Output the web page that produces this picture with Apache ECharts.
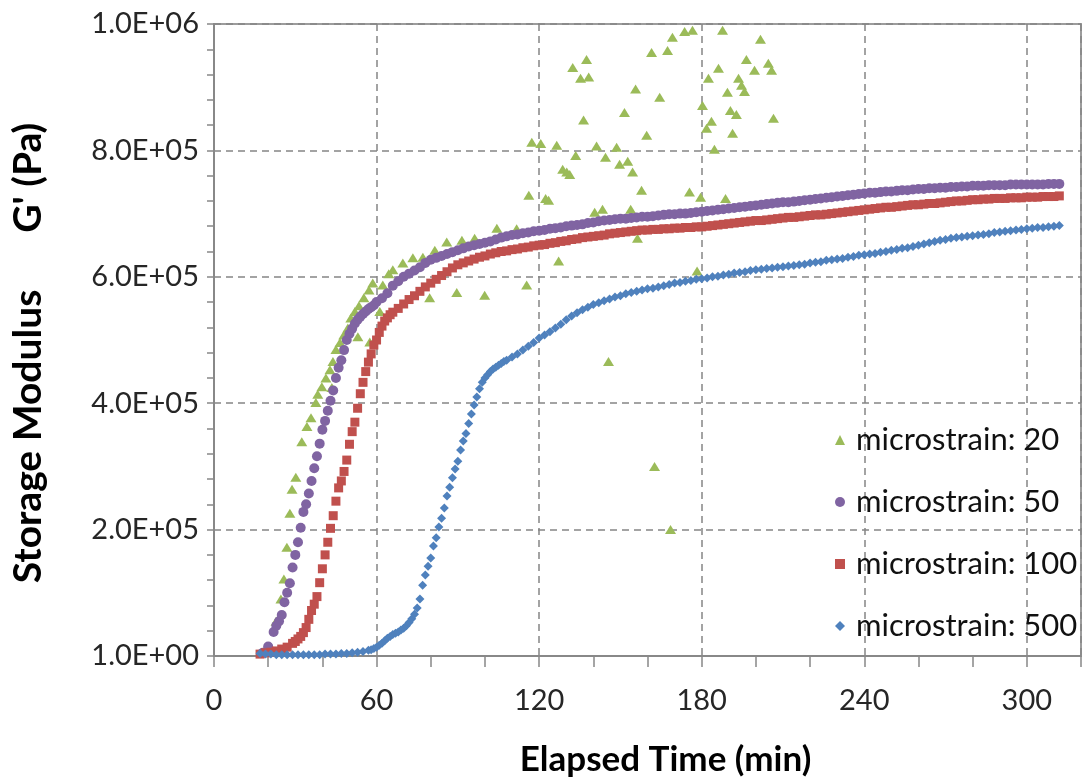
<!DOCTYPE html>
<html>
<head>
<meta charset="utf-8">
<title>Storage Modulus vs Elapsed Time</title>
<script src="https://cdn.jsdelivr.net/npm/echarts@6/dist/echarts.min.js"></script>
<style>
  html, body { margin: 0; padding: 0; background: #fff; }
  #chart { width: 1083px; height: 780px; }
</style>
</head>
<body>
<div id="chart"></div>
<script>
// Storage modulus G' (kPa) against elapsed time (min), one array of [time, G'] per strain level.
const strain20 = [
  [19.5,15],[22.9,55],[24.7,90],[25.8,122],[26.9,172],[28.0,226],[28.8,264],[30.2,283],[32.4,339],[34.3,363],
  [35.8,377],[37.6,401],[38.3,414],[39.8,426],[41.3,440],[42.8,453],[43.5,425],[43.9,466],[45.0,485],[46.5,496],
  [47.9,508],[49.4,519],[50.5,535],[52.0,545],[53.1,505],[53.5,554],[55.3,567],[57.2,579],[57.5,497],[58.6,590],
  [61.2,545],[62.3,587],[64.5,605],[66.0,611],[69.7,622],[73.4,630],[77.1,631],[79.6,567],[81.5,642],[85.9,655],
  [89.6,575],[91.5,658],[96.2,661],[99.9,571],[104.4,677],[111.7,676],[115.4,587],[116.2,729],[117.3,813],[120.6,811],
  [122.4,724],[123.5,721],[126.5,808],[127.2,625],[128.7,770],[130.2,766],[131.3,762],[132.4,931],[133.5,792],[135.3,914],
  [136.4,848],[137.5,944],[138.3,916],[140.5,702],[141.2,807],[143.4,707],[144.5,789],[145.6,466],[148.6,805],[149.7,778],
  [151.5,860],[152.7,783],[153.8,707],[154.5,766],[155.6,897],[156.3,661],[157.8,737],[159.7,824],[161.5,955],[162.6,300],
  [164.5,884],[167.4,958],[168.5,200],[169.2,979],[173.7,988],[175.5,734],[176.6,990],[178.3,609],[179.6,726],[180.3,871],
  [181.8,835],[182.5,914],[183.6,846],[184.7,802],[186.2,930],[187.7,990],[188.8,724],[189.5,892],[190.6,863],[191.4,827],
  [192.8,857],[193.6,914],[194.7,903],[195.8,893],[196.5,944],[199.5,927],[201.7,976],[204.6,938],[205.8,927],[206.5,851]
];

const strain50 = [
  [18,5],[20,15],[22,38],[23,48],[24,55],[25,65],[26,85],[27,100],[28,115],[29,140],[30,160],[31,180],[32,203],[33,228],
  [34,240],[35,257],[36,277],[37,297],[38,316],[39,336],[40,358],[41,372],[42,388],[43,404],[44,420],[45,440],[46,456],
  [47,468],[48,484],[49,500],[50,510],[51,518],[52,526],[53,532],[54,537],[55,541],[56,545],[57,549],[58,552],[59,555],
  [60,560],[62,566],[64,574],[66,586],[68,593],[70,600],[72,605],[74,610],[76,615],[78,622],[80,627],[82,630],[84,633],
  [86,636],[88,639],[90,642],[92,645],[94,648],[96,650],[98,652],[100,654],[102,656],[104,659],[106,662],[108,664],
  [110,666],[112,667],[114,669],[116,670],[118,672],[120,673],[122,674],[124,676],[126,677],[128,678],[130,680],[132,681],
  [134,682],[136,683],[138,685],[140,686],[142,688],[144,689],[146,690],[148,691],[150,692],[152,692],[154,693],[156,694],
  [158,695],[160,695],[162,696],[164,697],[166,698],[168,699],[170,699],[172,700],[174,700],[176,701],[178,702],[180,703],
  [182,704],[184,705],[186,706],[188,707],[190,708],[192,709],[194,710],[196,711],[198,712],[200,713],[202,714],[204,715],
  [206,716],[208,717],[210,718],[212,718],[214,719],[216,720],[218,721],[220,722],[222,723],[224,724],[226,725],[228,726],
  [230,727],[232,728],[234,729],[236,730],[238,731],[240,732],[242,733],[244,733],[246,734],[248,735],[250,735],[252,736],
  [254,737],[256,737],[258,738],[260,739],[262,739],[264,740],[266,740],[268,741],[270,741],[272,742],[274,742],[276,743],
  [278,743],[280,744],[282,744],[284,744],[286,745],[288,745],[290,745],[292,745],[294,746],[296,746],[298,746],[300,746],
  [302,746],[304,746],[306,746],[308,747],[310,747],[312,747]
];

const strain100 = [
  [17,3],[19,5],[21,6],[23,8],[25,11],[27,14],[29,20],[30,23],[31,27],[32,31],[33,37],[34,45],[35,58],[36,72],[37,82],
  [38,94],[39,116],[40,138],[41,160],[42,180],[43,202],[44,222],[45,245],[46,266],[47,277],[48,292],[49,310],[50,335],
  [51,355],[52,370],[53,392],[54,415],[55,433],[56,450],[57,465],[58,478],[59,492],[60,500],[61,512],[62,522],[63,530],
  [64,535],[65,540],[66,544],[68,550],[70,557],[72,564],[74,570],[76,577],[78,584],[80,590],[82,596],[84,602],[86,608],
  [88,614],[90,619],[92,622],[94,625],[96,628],[98,631],[100,633],[102,636],[104,638],[106,640],[108,641],[110,643],
  [112,644],[114,646],[116,647],[118,649],[120,650],[122,651],[124,653],[126,654],[128,656],[130,657],[132,659],[134,660],
  [136,662],[138,663],[140,664],[142,665],[144,666],[146,668],[148,669],[150,670],[152,671],[154,672],[156,673],[158,674],
  [160,674],[162,675],[164,675],[166,676],[168,676],[170,677],[172,677],[174,678],[176,678],[178,679],[180,679],[182,680],
  [184,681],[186,682],[188,683],[190,684],[192,685],[194,686],[196,687],[198,688],[200,689],[202,689],[204,690],[206,691],
  [208,692],[210,693],[212,694],[214,694],[216,695],[218,696],[220,697],[222,698],[224,698],[226,699],[228,700],[230,701],
  [232,702],[234,703],[236,704],[238,705],[240,706],[242,707],[244,708],[246,709],[248,710],[250,710],[252,711],[254,712],
  [256,713],[258,714],[260,714],[262,715],[264,716],[266,716],[268,717],[270,718],[272,719],[274,720],[276,720],[278,721],
  [280,722],[282,722],[284,723],[286,723],[288,724],[290,724],[292,724],[294,725],[296,725],[298,725],[300,726],[302,726],
  [304,726],[306,727],[308,727],[310,727],[312,728]
];

const strain500 = [
  [17,4],[19,3],[21,3],[23,2],[25,2],[27,2],[29,2],[31,2],[33,2],[35,2],[37,2],[39,2],[41,3],[43,3],[45,3],[47,4],[49,4],
  [51,5],[53,6],[55,7],[57,9],[58,10],[59,12],[60,14],[61,17],[62,20],[63,24],[64,28],[65,31],[66,34],[67,36],[68,38],
  [69,41],[70,44],[71,48],[72,53],[73,59],[74,66],[75,76],[76,90],[77,112],[78,128],[79,142],[80,155],[81,174],[82,187],
  [83,204],[84,218],[85,234],[86,253],[87,267],[88,282],[89,296],[90,308],[91,326],[92,340],[93,352],[94,368],[95,383],
  [96,397],[97,410],[98,423],[99,433],[100,440],[101,445],[102,450],[103,454],[104,457],[105,460],[106,463],[107,466],
  [108,468],[110,473],[112,478],[114,484],[116,490],[118,496],[120,503],[122,508],[124,513],[126,519],[128,525],[130,532],
  [132,538],[134,543],[136,548],[138,552],[140,556],[142,559],[144,562],[146,565],[148,568],[150,570],[152,573],[154,575],
  [156,577],[158,579],[160,581],[162,582],[164,584],[166,586],[168,588],[170,590],[172,591],[174,593],[176,594],[178,596],
  [180,597],[182,598],[184,600],[186,601],[188,603],[190,604],[192,606],[194,607],[196,608],[198,610],[200,611],[202,612],
  [204,613],[206,614],[208,615],[210,616],[212,617],[214,618],[216,619],[218,620],[220,622],[222,623],[224,624],[226,626],
  [228,627],[230,628],[232,629],[234,631],[236,632],[238,634],[240,635],[242,636],[244,637],[246,639],[248,640],[250,642],
  [252,643],[254,645],[256,646],[258,648],[260,650],[262,652],[264,654],[266,656],[268,658],[270,659],[272,661],[274,662],
  [276,663],[278,664],[280,665],[282,666],[284,667],[286,668],[288,670],[290,671],[292,672],[294,673],[296,674],[298,675],
  [300,676],[302,677],[304,678],[306,678],[308,679],[310,680],[312,681]
];

const seriesNames = ['microstrain: 20', 'microstrain: 50', 'microstrain: 100', 'microstrain: 500'];
const xTickLabels = ['0', '60', '120', '180', '240', '300'];
const yTickLabels = ['1.0E+00', '2.0E+05', '4.0E+05', '6.0E+05', '8.0E+05', '1.0E+06'];

const FONT = 'Lato, "Open Sans", sans-serif';
const AXIS_GREY = '#888888';
const GRID_GREY = '#858585';
const toPa = pts => pts.map(([t, g]) => [t, g * 1000]);

const markerSpecs = [
  { data: strain20,  symbol: 'triangle', size: [11, 9], color: '#9BBB59' },
  { data: strain50,  symbol: 'circle',   size: 10,      color: '#8064A2' },
  { data: strain100, symbol: 'rect',     size: 9,       color: '#C0504D' },
  { data: strain500, symbol: 'diamond',  size: 9,       color: '#4F81BD' }
];

const chart = echarts.init(document.getElementById('chart'), null, { renderer: 'canvas' });

chart.setOption({
  animation: false,
  backgroundColor: '#ffffff',
  textStyle: { fontFamily: FONT },
  grid: {
    left: 214, right: 2, top: 24, bottom: 124,
    outerBoundsMode: 'none', containLabel: false,
    show: true, borderColor: '#9c9c9c', borderWidth: 2, backgroundColor: 'transparent'
  },
  legend: {
    orient: 'vertical',
    left: 830, top: 419,
    itemWidth: 10, itemHeight: 10, itemGap: 30,
    textStyle: { fontFamily: FONT, fontSize: 31, color: '#111111', lineHeight: 32, padding: [0, 0, 0, 6] },
    data: seriesNames.map((name, i) => ({ name, icon: markerSpecs[i].symbol }))
  },
  xAxis: {
    type: 'value', min: 0, max: 320, interval: 60,
    name: 'Elapsed Time (min)', nameLocation: 'middle', nameGap: 86,
    nameTextStyle: { fontFamily: FONT, fontSize: 35, fontWeight: 'bold', color: '#000', padding: [0, 0, 0, 36] },
    axisLine: { show: true, onZero: false, lineStyle: { color: AXIS_GREY, width: 2 } },
    axisTick: { show: true, length: 11, lineStyle: { color: AXIS_GREY, width: 1.5 } },
    minorTick: { show: true, splitNumber: 3, length: 11, lineStyle: { color: AXIS_GREY, width: 1.5 } },
    axisLabel: {
      margin: 30, fontSize: 29, color: '#262626', fontFamily: FONT,
      formatter: v => (v % 60 === 0 ? xTickLabels[v / 60] : '')
    },
    splitLine: { show: true, lineStyle: { type: [7, 5], color: GRID_GREY, width: 1.5 } },
    minorSplitLine: { show: false }
  },
  yAxis: {
    type: 'value', min: 0, max: 1000000, interval: 200000,
    name: "Storage Modulus      G' (Pa)", nameLocation: 'middle', nameGap: 166, nameRotate: 90,
    nameTextStyle: { fontFamily: FONT, fontSize: 39, fontWeight: 'bold', color: '#000', padding: [0, 26, 0, 0] },
    axisLine: { show: true, lineStyle: { color: AXIS_GREY, width: 2 } },
    axisTick: { show: true, length: 7, lineStyle: { color: AXIS_GREY, width: 1.5 } },
    minorTick: { show: true, splitNumber: 5, length: 7, lineStyle: { color: AXIS_GREY, width: 1.5 } },
    axisLabel: {
      margin: 15, fontSize: 29, color: '#262626', fontFamily: FONT,
      formatter: v => yTickLabels[Math.round(v / 200000)]
    },
    splitLine: { show: true, lineStyle: { type: [7, 5], color: GRID_GREY, width: 1.5 } }
  },
  series: markerSpecs.map((s, i) => ({
    name: seriesNames[i],
    type: 'scatter',
    symbol: s.symbol,
    symbolSize: s.size,
    itemStyle: { color: s.color, opacity: 1 },
    emphasis: { disabled: true },
    data: toPa(s.data)
  }))
});
</script>
</body>
</html>
